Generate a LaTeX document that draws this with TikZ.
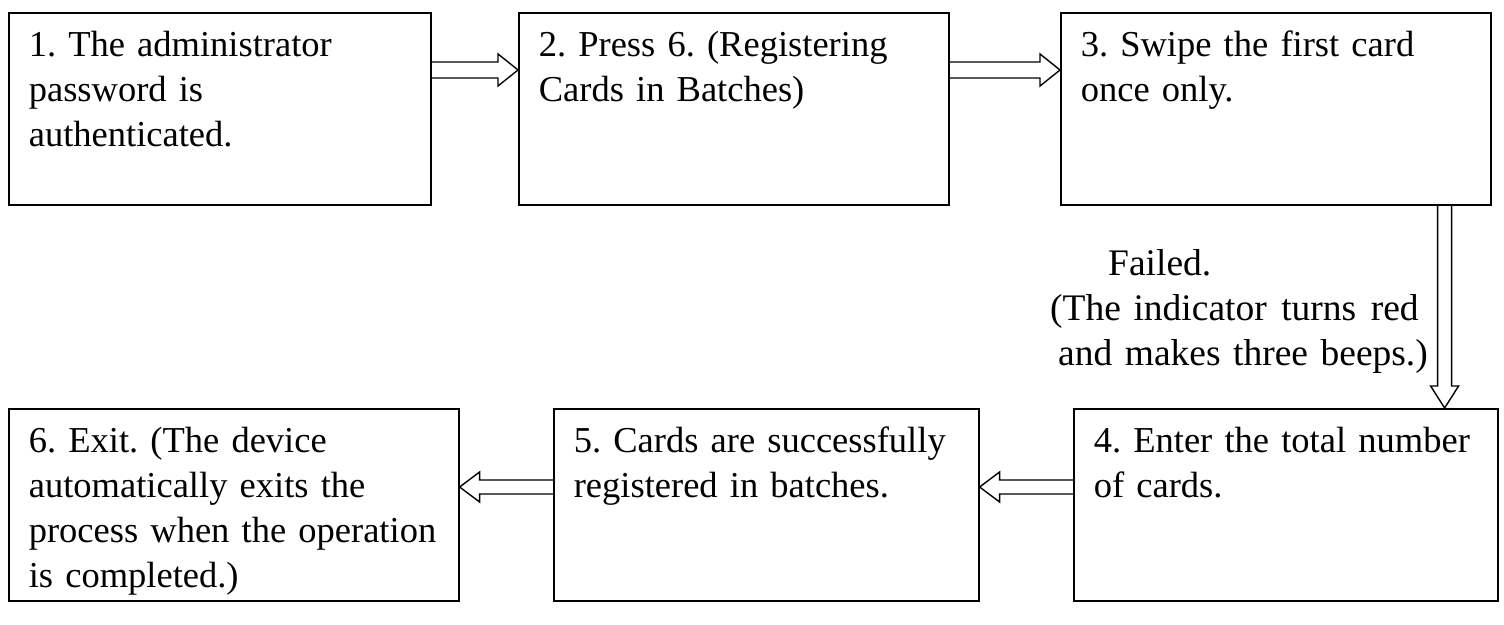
\documentclass[tikz,border=0pt]{standalone}
\usepackage{fontspec}
\setmainfont{Liberation Serif}
\usetikzlibrary{calc}
\frenchspacing
\hyphenpenalty=10000
\exhyphenpenalty=10000
\tikzset{
  stepbox/.style={draw, line width=1.6pt, anchor=north west, inner xsep=20pt, inner ysep=0pt,
    align=left, text height=44pt, text depth=148pt,
    font=\fontsize{36.5}{45}\selectfont},
  blk/.style={draw, line width=1.4pt, line join=miter},
  lbl/.style={inner sep=0pt, anchor=base west, align=left, text width=400pt,
    font=\fontsize{37.5}{45}\selectfont}
}
\newcommand\blkarrow[5]{%
  \coordinate (ba) at ($(#2)!#5!(#1)$);
  \draw[blk] ($(#1)!#3!90:(#2)$) -- ($(ba)!#3!-90:(#1)$) -- ($(ba)!#4!-90:(#1)$) -- (#2)
    -- ($(ba)!#4!90:(#1)$) -- ($(ba)!#3!90:(#1)$) -- ($(#1)!#3!-90:(#2)$);
}
\begin{document}
\begin{tikzpicture}[x=1pt,y=1pt]
\useasboundingbox[fill=white] (0,0) rectangle (1504,624);
\node[stepbox, text width=382pt] (b1) at (8,612) {\mbox{1. The administrator}\\password is\\authenticated.};
\node[stepbox, text width=390pt] (b2) at (518,612) {\mbox{2. Press 6. (Registering}\\Cards in Batches)};
\node[stepbox, text width=390pt] (b3) at (1060,612) {\mbox{3. Swipe the first card}\\once only.};
\node[stepbox, text width=384pt] (b4) at (1073,216) {\mbox{4. Enter the total number}\\of cards.};
\node[stepbox, text width=385pt] (b5) at (553,216) {\mbox{5. Cards are successfully}\\\mbox{registered in batches.}};
\node[stepbox, text width=410pt] (b6) at (8,216) {\mbox{6. Exit. (The device}\\\mbox{automatically exits the}\\\mbox{process when the operation}\\\mbox{is completed.)}};
\node[lbl] (fail) at (1050,348) {\hspace*{58pt}Failed.\\(The indicator\hspace{2pt} turns\hspace{2pt} red\\\hspace*{8pt}and makes three beeps.)};
\coordinate (a12s) at ($(b1.north east)+(0,-58)$);
\coordinate (a12e) at (a12s -| b2.west);
\coordinate (a23s) at ($(b2.north east)+(0,-58)$);
\coordinate (a23e) at (a23s -| b3.west);
\coordinate (a34s) at ($(b3.south east)+(-47,0)$);
\coordinate (a34e) at (a34s |- b4.north);
\coordinate (a45s) at ($(b4.north west)+(0,-79)$);
\coordinate (a45e) at (a45s -| b5.east);
\coordinate (a56s) at ($(b5.north west)+(0,-79)$);
\coordinate (a56e) at (a56s -| b6.east);
\blkarrow{a12s}{a12e}{8pt}{16pt}{20pt}
\blkarrow{a23s}{a23e}{8pt}{16pt}{20pt}
\blkarrow{a34s}{a34e}{7pt}{14pt}{22pt}
\blkarrow{a45s}{a45e}{7pt}{15pt}{20pt}
\blkarrow{a56s}{a56e}{7pt}{15pt}{20pt}
\end{tikzpicture}
\end{document}
